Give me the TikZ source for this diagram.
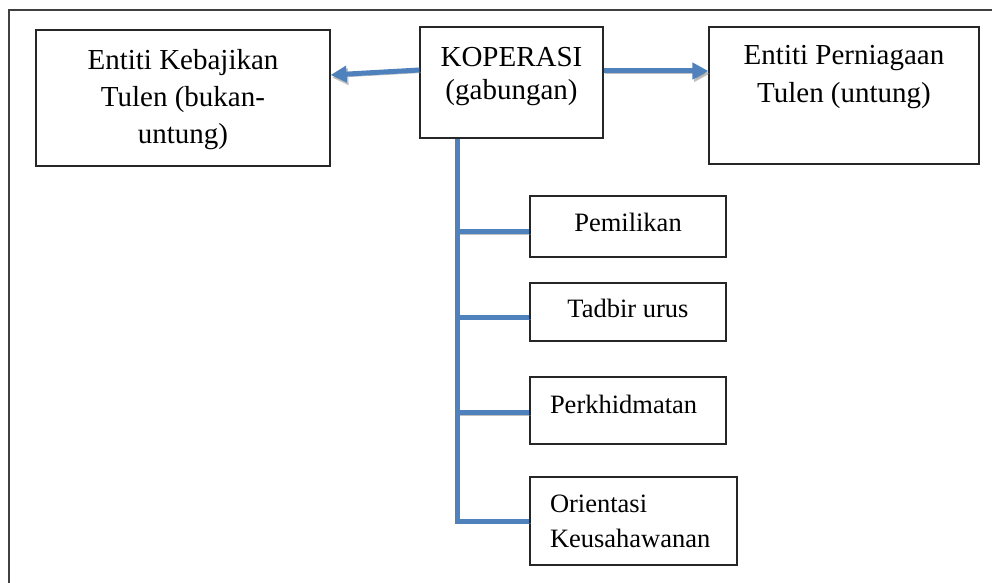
\documentclass[tikz,border=0pt]{standalone}
\usepackage{fontspec}
\setmainfont{Liberation Serif}
\usetikzlibrary{arrows.meta}
\definecolor{kblue}{RGB}{79,129,189}
\definecolor{frame}{RGB}{64,64,64}
\tikzstyle{entity}=[draw=black!85, line width=0.6pt, rectangle, inner sep=0pt]
\tikzstyle{link}=[draw=kblue, line width=2.5pt, preaction={draw=black!50, opacity=0.5, transform canvas={shift={(0.8pt,-1.3pt)}}}]
\tikzstyle{tip}=[-{Triangle[length=8pt,width=8pt]}]
\newcommand{\boxtext}[5]{\parbox[c][#2][t]{#1}{#4\rule{0pt}{#3}#5}}
\newcommand{\bigsize}[1]{\fontsize{14.5pt}{#1}\selectfont}
\newcommand{\smallsize}[1]{\fontsize{13.25pt}{#1}\selectfont}
\begin{document}
\begin{tikzpicture}[x=0.5pt, y=-0.5pt]
\useasboundingbox (0,0) rectangle (992,583);
\draw[draw=frame, line width=0.8pt] (9,583) -- (9,10) -- (992,10);

\node[entity] (kebajikan) at (183,98) {\boxtext{147pt}{68pt}{20pt}{\centering\bigsize{18.5pt}}{Entiti Kebajikan\\Tulen (bukan-\\untung)}};
\node[entity] (kop) at (511.5,82.5) {\boxtext{91.5pt}{55.5pt}{20pt}{\centering\bigsize{16.5pt}}{KOPERASI\\(gabungan)}};
\node[entity] (niaga) at (844,95.5) {\boxtext{135pt}{68.5pt}{19pt}{\centering\bigsize{19pt}}{Entiti Perniagaan\\Tulen (untung)}};

\node[entity] (milik) at (628,226.5) {\boxtext{98pt}{30.5pt}{18pt}{\centering\smallsize{17.5pt}}{Pemilikan}};
\node[entity] (tadbir) at (628,312) {\boxtext{98pt}{29pt}{17pt}{\centering\smallsize{17.5pt}}{Tadbir urus}};
\node[entity] (khidmat) at (628,410.5) {\boxtext{98pt}{33.5pt}{18pt}{\raggedright\leftskip=10pt\relax\smallsize{17.5pt}}{Perkhidmatan}};
\node[entity] (orient) at (633.5,521) {\boxtext{103.5pt}{44pt}{17.5pt}{\raggedright\leftskip=10pt\relax\smallsize{17.5pt}}{Orientasi\\Keusahawanan}};

\draw[link, tip] (kop.west |- 0,70) -- (kebajikan.east |- 0,75);
\draw[link, tip] (kop.east |- 0,71) -- (niaga.west |- 0,71);

\coordinate (trunk) at (kop.south -| 457,0);
\draw[link, line join=miter] (trunk) -- (trunk |- orient.west) -- (orient.west);
\foreach \branch/\dy in {milik/5, tadbir/5, khidmat/2}
{
  \coordinate (\branch-in) at ([yshift=-\dy*0.5pt]\branch.west);
  \draw[link] (trunk |- \branch-in) -- (\branch-in);
}
\end{tikzpicture}
\end{document}
